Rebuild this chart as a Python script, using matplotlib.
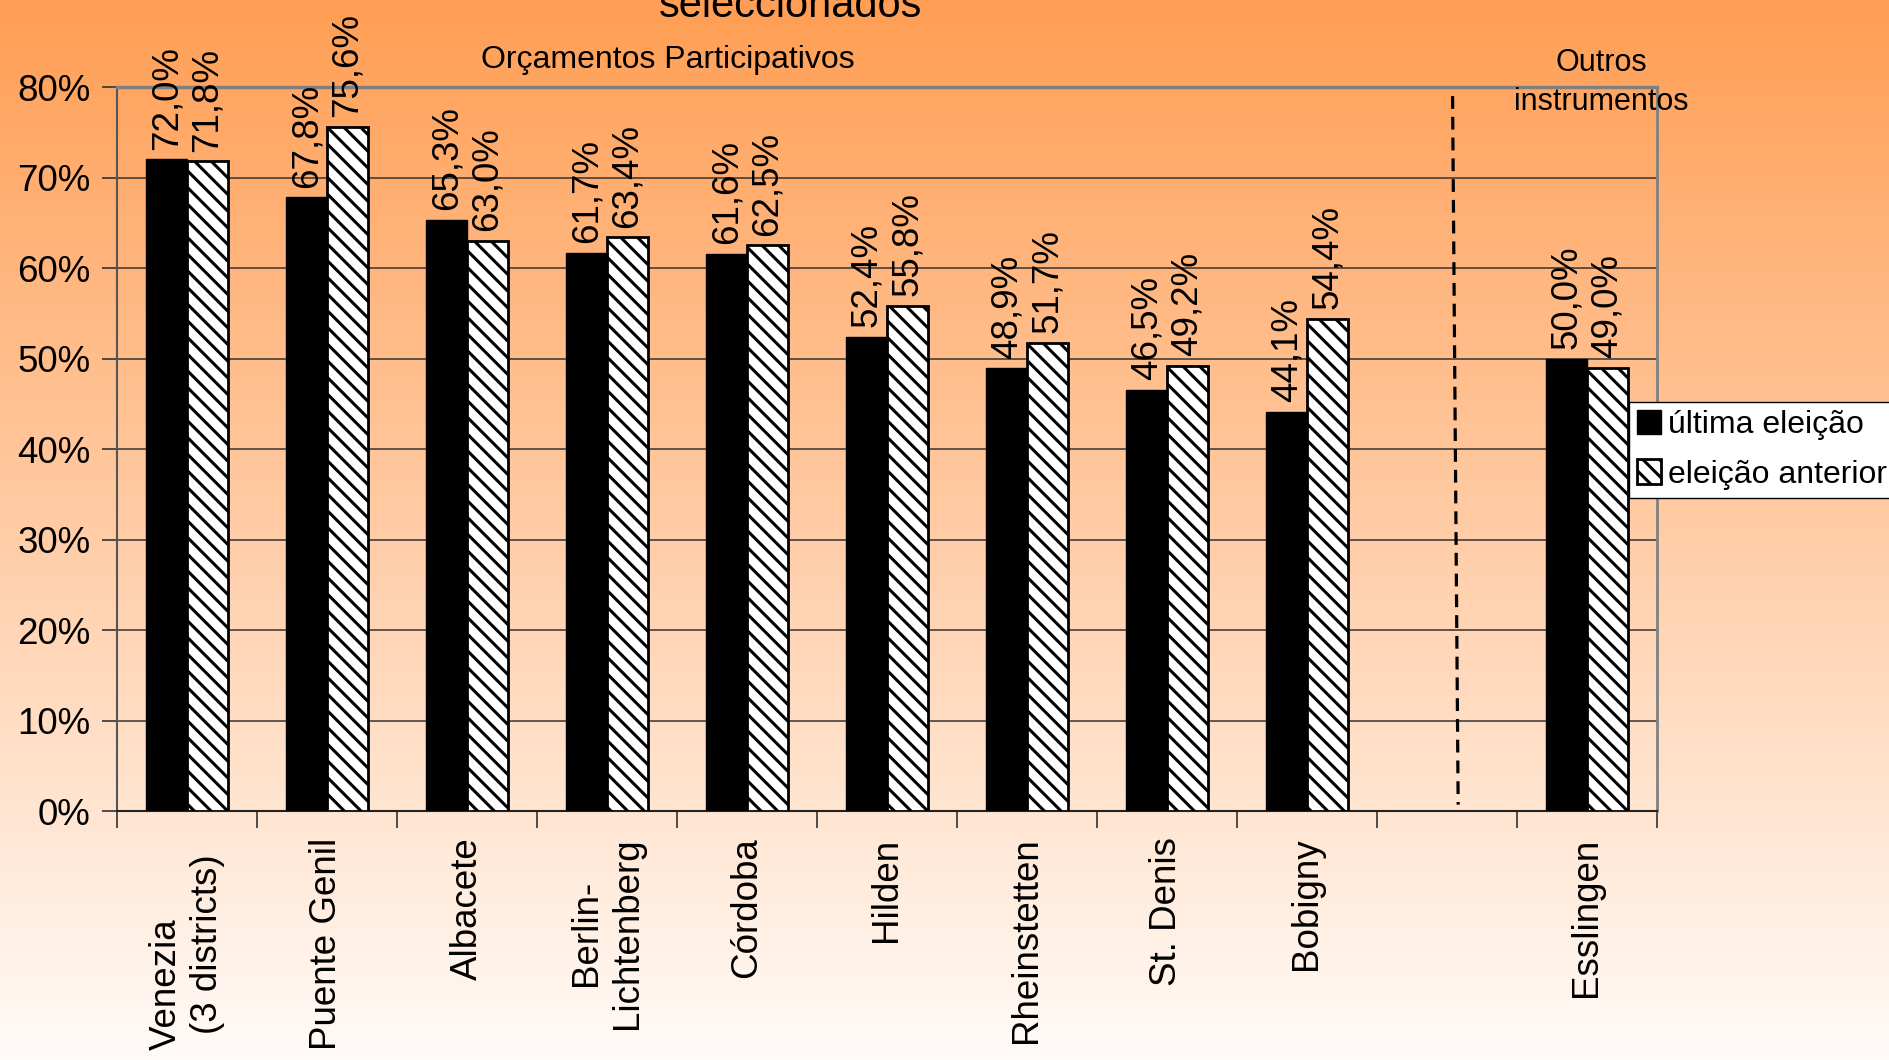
import numpy as np
import matplotlib
matplotlib.use("Agg")
import matplotlib.pyplot as plt

plt.rcParams['font.family'] = ['Liberation Sans', 'DejaVu Sans']
plt.rcParams['hatch.linewidth'] = 2.2

# data (empty slot separates the two groups)
cidades = ['Venezia        \n(3 districts)', 'Puente Genil', 'Albacete',
           'Berlin-\nLichtenberg', 'Córdoba', 'Hilden', 'Rheinstetten',
           'St. Denis', 'Bobigny', '', 'Esslingen']
ultima = [72.0, 67.8, 65.3, 61.7, 61.6, 52.4, 48.9, 46.5, 44.1, np.nan, 50.0]
anterior = [71.8, 75.6, 63.0, 63.4, 62.5, 55.8, 51.7, 49.2, 54.4, np.nan, 49.0]
yticks = [0, 10, 20, 30, 40, 50, 60, 70, 80]

fig = plt.figure(figsize=(18.9, 10.6), dpi=100)

# background gradient, orange at top fading to white
bg = fig.add_axes([0, 0, 1, 1], zorder=-10)
top = np.array([255, 158, 84]) / 255.0
bot = np.array([255, 251, 248]) / 255.0
t = np.linspace(0, 1, 256)[:, None]
grad = top[None, :] * (1 - t) + bot[None, :] * t
bg.imshow(grad[:, None, :], aspect='auto', extent=[0, 1, 0, 1])
bg.set_axis_off()

ax = fig.add_axes([0.0619, 0.2349, 0.8148, 0.683])
ax.patch.set_alpha(0)

x = np.arange(len(cidades))
w = 0.29
ok = ~np.isnan(ultima)
b1 = ax.bar(x[ok] - w / 2, np.array(ultima)[ok], w, color='black',
            edgecolor='black', linewidth=1, label='última eleição', zorder=3)
b2 = ax.bar(x[ok] + w / 2, np.array(anterior)[ok], w, color='white',
            edgecolor='black', hatch='\\\\', linewidth=2, label='eleição anterior',
            zorder=3)

for xi, v in zip(x[ok] - w / 2, np.array(ultima)[ok]):
    ax.annotate(('%.1f%%' % v).replace('.', ','), (xi, v), xytext=(0, 7),
                textcoords='offset points', rotation=90, ha='center',
                va='bottom', fontsize=26.5)
for xi, v in zip(x[ok] + w / 2, np.array(anterior)[ok]):
    ax.annotate(('%.1f%%' % v).replace('.', ','), (xi, v), xytext=(0, 7),
                textcoords='offset points', rotation=90, ha='center',
                va='bottom', fontsize=26.5)

# separator between the two groups of instruments
gap = cidades.index('')
ax.plot([gap + 0.04, gap + 0.08], [79, 0.7], color='black', lw=2.3,
        linestyle=(0, (4, 2.5)), zorder=4)

ax.set_xlim(-0.5, len(cidades) - 0.5)
ax.set_ylim(0, 80)
ax.set_yticks(yticks)
ax.set_yticklabels(['%d%%' % v for v in yticks], fontsize=26.5)
ax.yaxis.grid(True, color='#333333', linewidth=1.1, zorder=0)
ax.set_axisbelow(True)

ax.set_xticks(x)
ax.set_xticklabels(cidades, rotation=90, fontsize=26.5, multialignment='center')
ax.set_xticks(np.arange(len(cidades) + 1) - 0.5, minor=True)
ax.tick_params(axis='x', which='major', length=0, pad=19)
ax.tick_params(axis='x', which='minor', length=12, width=1.2, color='#333333')
ax.tick_params(axis='y', length=11, width=1.2, color='#333333', pad=8)

ax.spines['top'].set_color('#808080')
ax.spines['top'].set_linewidth(2.5)
ax.spines['right'].set_color('#808080')
ax.spines['right'].set_linewidth(2)
ax.spines['left'].set_color('#555555')
ax.spines['left'].set_linewidth(1.5)
ax.spines['bottom'].set_color('#222222')
ax.spines['bottom'].set_linewidth(1.5)

leg = fig.legend(handles=[b1, b2], loc='upper left', bbox_to_anchor=(0.862, 0.621),
                 fontsize=23, frameon=True, fancybox=False, edgecolor='black',
                 framealpha=1, handlelength=0.75, handleheight=0.8,
                 handletextpad=0.2, borderpad=0.25, labelspacing=0.6,
                 borderaxespad=0)
leg.get_frame().set_linewidth(1)

fig.text(0.4185, 0.984, 'seleccionados', fontsize=30, ha='center', va='baseline')
fig.text(0.3534, 0.943, 'Orçamentos Participativos', fontsize=23, ha='center',
         va='center')
fig.text(0.847, 0.922, 'Outros\ninstrumentos', fontsize=22, ha='center',
         va='center', linespacing=1.4)

fig.savefig('out.png', dpi=100)
